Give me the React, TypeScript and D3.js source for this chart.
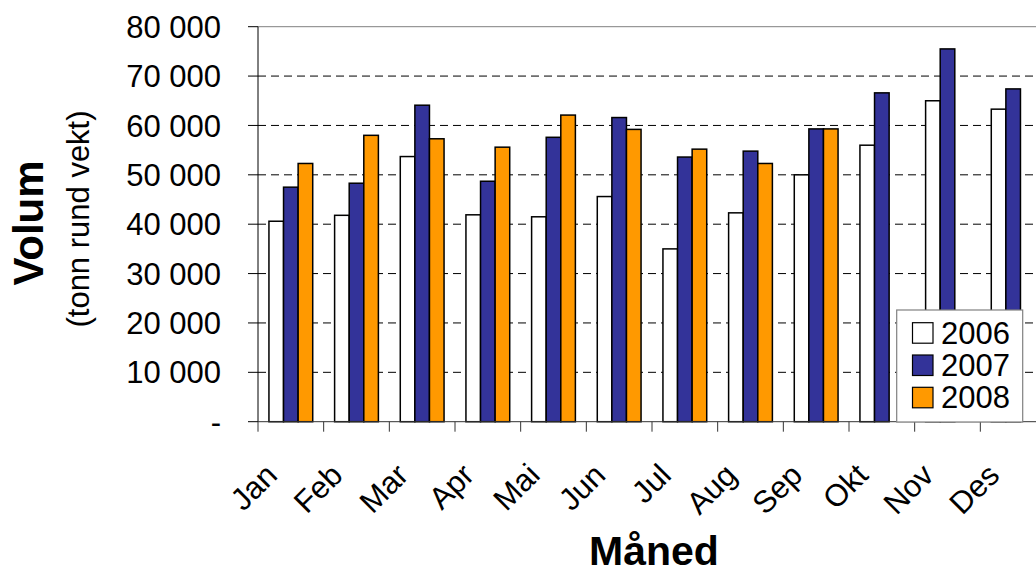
import React, { useEffect, useRef } from 'react';
import * as d3 from 'd3';

const months = ['Jan', 'Feb', 'Mar', 'Apr', 'Mai', 'Jun', 'Jul', 'Aug', 'Sep', 'Okt', 'Nov', 'Des'];
const years = ['2006', '2007', '2008'];
const v2006 = [40600, 41800, 53700, 41900, 41500, 45600, 35000, 42300, 50000, 56000, 65000, 63300];
const v2007 = [47500, 48300, 64100, 48700, 57600, 61600, 53600, 54800, 59300, 66600, 75500, 67400];
const v2008 = [52300, 58000, 57300, 55600, 62100, 59200, 55200, 52300, 59300, null, null, null];
const yTicks = [0, 10000, 20000, 30000, 40000, 50000, 60000, 70000, 80000];

const colors: Record<string, string> = { '2006': '#ffffff', '2007': '#333399', '2008': '#ff9900' };

const App: React.FC = () => {
  const svgRef = useRef<SVGSVGElement>(null);

  useEffect(() => {
    if (!svgRef.current) return;
    const svg = d3.select(svgRef.current);
    svg.selectAll('*').remove();

    const font = '"Liberation Sans", Arial, sans-serif';
    const left = 258, right = 1046, top = 26.7, bottom = 421.7;

    const x = d3.scaleBand<string>().domain(months).range([left, right]);
    const xs = d3.scaleBand<string>().domain(years).range([0, x.bandwidth()]).paddingOuter(0.75);
    const y = d3.scaleLinear().domain([0, 80000]).range([bottom, top]);

    const fmt = (v: number) => (v === 0 ? '-' : d3.format(',')(v).replace(/,/g, ' '));

    // gridlines
    svg.append('g')
      .selectAll('line')
      .data(yTicks.filter(t => t > 0))
      .join('line')
      .attr('x1', left)
      .attr('x2', right)
      .attr('y1', d => y(d))
      .attr('y2', d => y(d))
      .attr('stroke', d => (d === 80000 ? '#808080' : '#000'))
      .attr('stroke-width', 1)
      .attr('stroke-dasharray', d => (d === 80000 ? null : '8,5'));

    // bars
    const series = [v2006, v2007, v2008];
    const rows: { m: string; yr: string; v: number }[] = [];
    months.forEach((m, i) => {
      years.forEach((yr, j) => {
        const v = series[j][i];
        if (v != null) rows.push({ m, yr, v });
      });
    });

    svg.append('g')
      .selectAll('rect')
      .data(rows)
      .join('rect')
      .attr('x', d => (x(d.m) as number) + (xs(d.yr) as number))
      .attr('y', d => y(d.v))
      .attr('width', xs.bandwidth())
      .attr('height', d => bottom - y(d.v))
      .attr('fill', d => colors[d.yr])
      .attr('stroke', '#000')
      .attr('stroke-width', 1.5);

    // y axis
    const yAxis = svg.append('g');
    yAxis.append('line')
      .attr('x1', left).attr('x2', left)
      .attr('y1', top).attr('y2', bottom)
      .attr('stroke', '#000');
    yAxis.selectAll('line.tick')
      .data(yTicks)
      .join('line')
      .attr('class', 'tick')
      .attr('x1', left - 10).attr('x2', left)
      .attr('y1', d => y(d)).attr('y2', d => y(d))
      .attr('stroke', '#000');
    yAxis.selectAll('text')
      .data(yTicks)
      .join('text')
      .attr('x', 221)
      .attr('y', d => y(d))
      .attr('dy', '0.36em')
      .attr('text-anchor', 'end')
      .style('font-family', font)
      .style('font-size', '31px')
      .text(d => fmt(d));

    // x axis
    const xAxis = svg.append('g');
    xAxis.append('line')
      .attr('x1', left).attr('x2', right)
      .attr('y1', bottom).attr('y2', bottom)
      .attr('stroke', '#333');
    xAxis.selectAll('line.tick')
      .data(months.concat(['end']))
      .join('line')
      .attr('class', 'tick')
      .attr('x1', (d, i) => left + i * x.step())
      .attr('x2', (d, i) => left + i * x.step())
      .attr('y1', bottom).attr('y2', bottom + 10)
      .attr('stroke', '#333');
    xAxis.selectAll('text')
      .data(months)
      .join('text')
      .attr('transform', d => `translate(${(x(d) as number) + x.bandwidth() / 2 - 12}, 477) rotate(-45)`)
      .attr('text-anchor', 'end')
      .style('font-family', font)
      .style('font-size', '31px')
      .text(d => d);

    // titles
    svg.append('text')
      .attr('x', 654)
      .attr('y', 565)
      .attr('text-anchor', 'middle')
      .style('font-family', font)
      .style('font-size', '41px')
      .style('font-weight', 'bold')
      .text('Måned');

    svg.append('text')
      .attr('transform', 'translate(43, 223) rotate(-90)')
      .attr('text-anchor', 'middle')
      .style('font-family', font)
      .style('font-size', '42px')
      .style('font-weight', 'bold')
      .text('Volum');

    svg.append('text')
      .attr('transform', 'translate(88.5, 219) rotate(-90)')
      .attr('text-anchor', 'middle')
      .style('font-family', font)
      .style('font-size', '31px')
      .text('(tonn rund vekt)');

    // legend
    const lg = svg.append('g');
    lg.append('rect')
      .attr('x', 896.7).attr('y', 310)
      .attr('width', 126).attr('height', 112)
      .attr('fill', '#fff')
      .attr('stroke', '#808080')
      .attr('stroke-width', 1.2);
    years.forEach((yr, i) => {
      const cy = 333 + i * 32.3;
      lg.append('rect')
        .attr('x', 912.5).attr('y', cy - 10.3)
        .attr('width', 20.5).attr('height', 20.5)
        .attr('fill', colors[yr])
        .attr('stroke', '#000')
        .attr('stroke-width', 1.2);
      lg.append('text')
        .attr('x', 941)
        .attr('y', cy + 10.5)
        .style('font-family', font)
        .style('font-size', '31px')
        .text(yr);
    });
  }, []);

  return (
    <div style={{ position: 'absolute', left: 0, top: 0 }}>
      <svg ref={svgRef} width={1036} height={568} style={{ display: 'block' }} />
    </div>
  );
};

export default App;
